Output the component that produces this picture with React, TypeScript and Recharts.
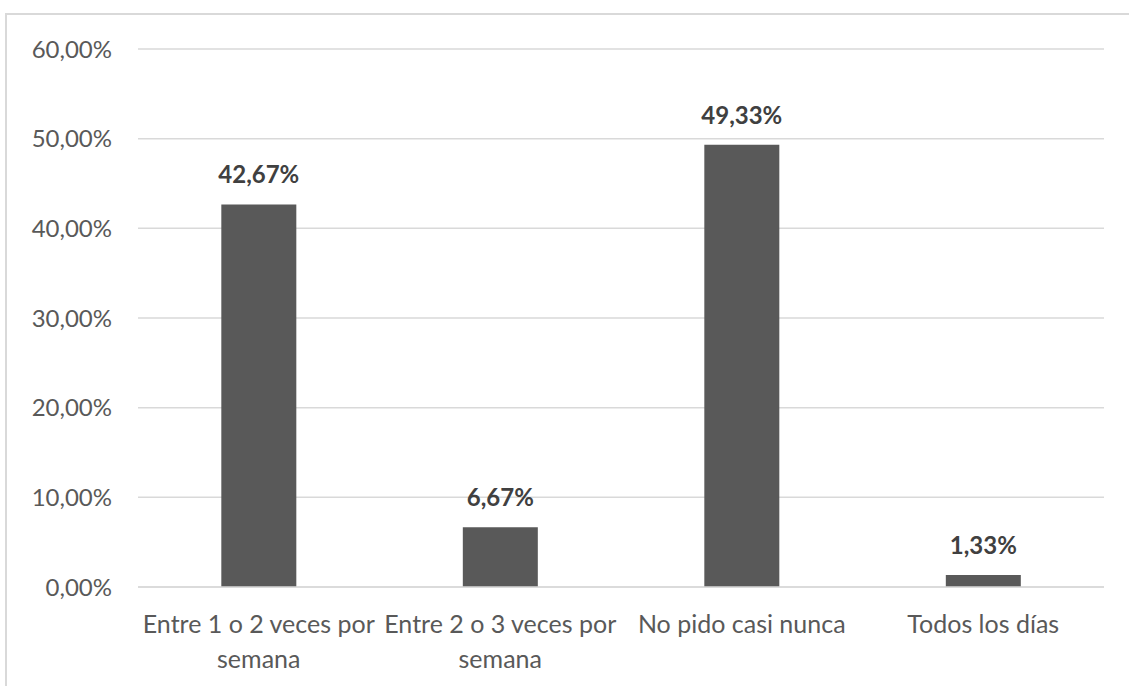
import React from "react";
import { Bar, BarChart, CartesianGrid, LabelList, XAxis, YAxis } from "recharts";

const categories = [
  "Entre 1 o 2 veces por\nsemana",
  "Entre 2 o 3 veces por\nsemana",
  "No pido casi nunca",
  "Todos los días",
];
const values = [42.67, 6.67, 49.33, 1.33];
const yTicks = [0, 10, 20, 30, 40, 50, 60];

const data = categories.map((name, i) => ({ name, value: values[i] }));

const pct = (v: number) => `${v.toFixed(2).replace(".", ",")}%`;
const FONT = "Lato, 'Open Sans', sans-serif";

function CatTick(props: any) {
  const { x, y, payload } = props;
  const lines = String(payload.value).split("\n");
  return (
    <text x={x} y={y} textAnchor="middle" fill="#595959" fontSize={25} fontFamily={FONT}>
      {lines.map((l, i) => (
        <tspan key={i} x={x} dy={i === 0 ? 46 : 35}>
          {l}
        </tspan>
      ))}
    </text>
  );
}

export default function App() {
  return (
    <div style={{ position: "fixed", left: 0, top: 0, width: 1129, height: 686, overflow: "hidden", background: "#fff" }}>
      <div
        style={{
          position: "absolute",
          left: 5,
          top: 13,
          width: 1200,
          height: 800,
          border: "2px solid #d9d9d9",
          boxSizing: "border-box",
        }}
      />
      <div style={{ position: "absolute", left: 0, top: 0 }}>
        <BarChart
          width={1129}
          height={686}
          data={data}
          margin={{ top: 49, right: 25, left: 0, bottom: 0 }}
          barCategoryGap="34.5%"
        >
          <CartesianGrid vertical={false} stroke="#d9d9d9" strokeWidth={1.5} />
          <XAxis
            dataKey="name"
            height={99}
            tick={<CatTick />}
            tickSize={0}
            tickMargin={0}
            tickLine={false}
            axisLine={{ stroke: "#d9d9d9", strokeWidth: 1.5 }}
            interval={0}
          />
          <YAxis
            domain={[0, 60]}
            ticks={yTicks}
            tickFormatter={pct}
            width={138}
            tickSize={0}
            tickMargin={26}
            axisLine={false}
            tickLine={false}
            tick={{ fill: "#595959", fontSize: 24, fontFamily: FONT }}
          />
          <Bar dataKey="value" fill="#595959" isAnimationActive={false}>
            <LabelList
              dataKey="value"
              position="top"
              offset={21}
              formatter={(v: any) => pct(Number(v))}
              style={{ fill: "#404040", fontSize: 24, fontWeight: 700, fontFamily: FONT }}
            />
          </Bar>
        </BarChart>
      </div>
    </div>
  );
}
